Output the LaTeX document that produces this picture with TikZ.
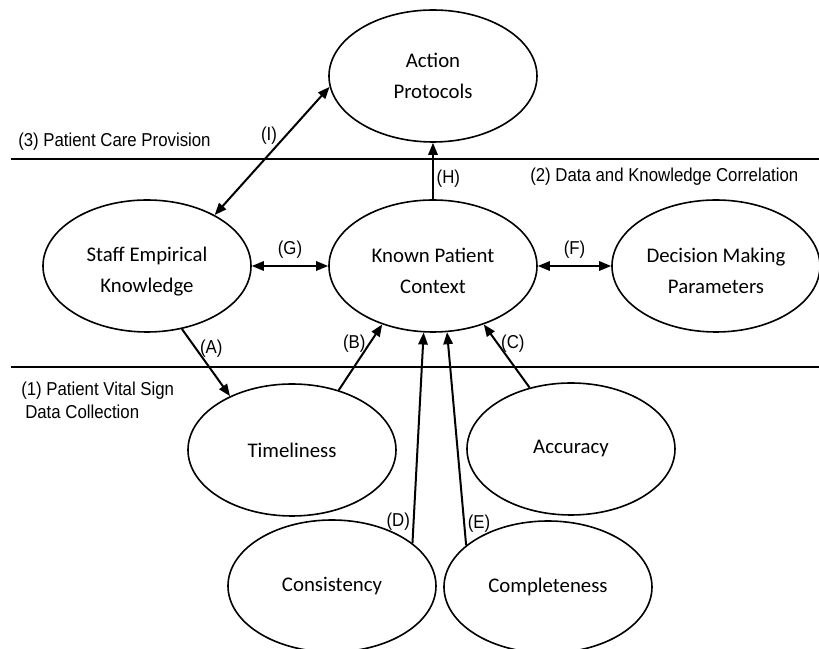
\documentclass[tikz,border=0pt]{standalone}
\usepackage{fontspec}
\setmainfont{Carlito}
\newfontfamily\lblfont[FakeStretch=0.9]{Liberation Sans}
\usetikzlibrary{shapes.geometric,arrows.meta}

\begin{document}
\begin{tikzpicture}[x=0.75pt, y=0.75pt, node distance=214.5pt]

\tikzstyle{bubble} = [ellipse, draw=black, line width=1.2pt, minimum width=156pt, minimum height=99pt, inner sep=0pt, align=center, font=\fontsize{15.6}{23.25}\selectfont]
\tikzstyle{pair} = [bubble, text height=42pt]
\tikzstyle{tag} = [font=\lblfont\fontsize{14}{17}\selectfont, inner sep=2pt]
\tikzstyle{zone} = [font=\lblfont\fontsize{14}{17.25}\selectfont, anchor=west, align=left, inner sep=0pt]
\tikzstyle{divider} = [line width=1.5pt]
\tikzstyle{arrow} = [line width=1.5pt,->,>={Stealth[length=9pt,width=7pt,inset=0pt]}]
\tikzstyle{both} = [line width=1.5pt,<->,>={Stealth[length=9pt,width=7pt,inset=0pt]}]

\useasboundingbox (-433,-383) rectangle (386,266);

% Define nodes
\node (known) [pair] {Known Patient\\Context};
\node (staff) [pair, left of=known] {Staff Empirical\\Knowledge};
\node (decision) [pair, right of=known, xshift=-2.25pt] {Decision Making\\Parameters};
\node (action) [bubble, node distance=142.5pt, above of=known] {Action\\Protocols};
\node (timeliness) [bubble, node distance=138pt, below of=known, xshift=-105.75pt] {Timeliness};
\node (accuracy) [bubble, node distance=137.25pt, below of=known, xshift=103.5pt] {Accuracy};
\node (consistency) [bubble, node distance=240pt, below of=known, xshift=-75.75pt] {Consistency};
\node (completeness) [bubble, node distance=240.75pt, below of=known, xshift=86.25pt] {Completeness};

% Zones
\draw [divider] (-422,107) -- (386,107);
\draw [divider] (-422,-101) -- (386,-101);
\node (zone3) [zone] at (-415,124) {(3) Patient Care Provision};
\node (zone2) [zone] at (97,89) {(2) Data and Knowledge Correlation};
\node (zone1) [zone] at (-412,-134.5) {(1) Patient Vital Sign\\\hspace{3pt}Data Collection};

% Draw arrows
\draw [both] (staff.37) -- node[tag, left=4pt, pos=0.62]{(I)} (action.186);
\draw [arrow] (known.north) -- node[tag, right, pos=0.37]{(H)} (action.south);
\draw [both] (staff.east) -- node[tag, above=3pt]{(G)} (known.west);
\draw [both] (known.east) -- node[tag, above=3pt]{(F)} (decision.west);
\draw [arrow] (staff.-61) -- node[tag, right, pos=0.3]{(A)} (timeliness.139);
\draw [arrow] (timeliness.52) -- node[tag, left, pos=0.7]{(B)} (known.229);
\draw [arrow] (accuracy.124) -- node[tag, right, pos=0.7]{(C)} (known.311);
\draw [arrow] (consistency.28) -- node[tag, left, pos=0.1]{(D)} (known.262);
\draw [arrow] (completeness.153) -- node[tag, right, pos=0.1]{(E)} (known.282);

\end{tikzpicture}
\end{document}
